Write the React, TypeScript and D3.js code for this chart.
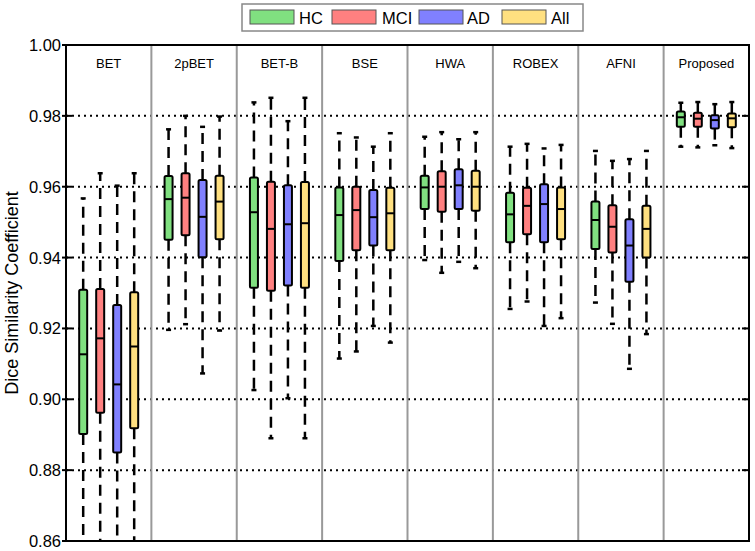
import React from "react";
import * as d3 from "d3";

// Methods (groups) along the x axis
const methods = ["BET", "2pBET", "BET-B", "BSE", "HWA", "ROBEX", "AFNI", "Proposed"];
// Series
const seriesNames = ["HC", "MCI", "AD", "All"];
const seriesColors = ["#80e080", "#ff8080", "#8080ff", "#ffe080"];
// Y ticks
const yTicks = [0.86, 0.88, 0.9, 0.92, 0.94, 0.96, 0.98, 1.0];

// Each entry: [whiskerLow, q1, median, q3, whiskerHigh], one per method
const hcStats = [
  [0.855, 0.8902, 0.9127, 0.9309, 0.9567],
  [0.9196, 0.945, 0.9565, 0.963, 0.9762],
  [0.9026, 0.9315, 0.9528, 0.9626, 0.9838],
  [0.9115, 0.939, 0.952, 0.9598, 0.9751],
  [0.9393, 0.9537, 0.9598, 0.9631, 0.9741],
  [0.9255, 0.9443, 0.9522, 0.9583, 0.9713],
  [0.9273, 0.9424, 0.9506, 0.9558, 0.9701],
  [0.9713, 0.9769, 0.9796, 0.9812, 0.9837],
];
const mciStats = [
  [0.855, 0.8962, 0.9172, 0.9311, 0.9638],
  [0.9212, 0.9463, 0.9569, 0.9638, 0.98],
  [0.889, 0.9306, 0.9481, 0.9614, 0.9851],
  [0.9135, 0.9421, 0.9534, 0.96, 0.9739],
  [0.9357, 0.9529, 0.96, 0.9644, 0.9754],
  [0.9276, 0.9466, 0.9546, 0.9597, 0.9721],
  [0.9213, 0.9414, 0.9487, 0.9548, 0.9673],
  [0.9711, 0.9769, 0.9792, 0.9809, 0.9839],
];
const adStats = [
  [0.855, 0.885, 0.9042, 0.9266, 0.9603],
  [0.9073, 0.9401, 0.9515, 0.9619, 0.9769],
  [0.9003, 0.9321, 0.9494, 0.9604, 0.9785],
  [0.9207, 0.9434, 0.9514, 0.9591, 0.9713],
  [0.9388, 0.9537, 0.9604, 0.9649, 0.9734],
  [0.9207, 0.9443, 0.9551, 0.9607, 0.9708],
  [0.9086, 0.9332, 0.9434, 0.9508, 0.9678],
  [0.9717, 0.9764, 0.9788, 0.9802, 0.9833],
];
const allStats = [
  [0.855, 0.8918, 0.9149, 0.9302, 0.9638],
  [0.9194, 0.9452, 0.9558, 0.9631, 0.9798],
  [0.889, 0.9315, 0.9497, 0.9613, 0.9851],
  [0.916, 0.9421, 0.9525, 0.9597, 0.9751],
  [0.937, 0.9532, 0.96, 0.9645, 0.9754],
  [0.9229, 0.9452, 0.9537, 0.9598, 0.9718],
  [0.9184, 0.94, 0.9481, 0.9546, 0.9701],
  [0.9709, 0.9768, 0.9793, 0.9807, 0.9839],
];
const allSeriesStats = [hcStats, mciStats, adStats, allStats];

const W = 755;
const H = 551;
const margin = { left: 66, right: 6, top: 45, bottom: 10 };

export default function App() {
  const x0 = margin.left;
  const x1 = W - margin.right;
  const yTop = margin.top;
  const yBot = H - margin.bottom;

  const y = d3.scaleLinear().domain([0.86, 1.0]).range([yBot, yTop]);
  const xg = d3.scaleBand<string>().domain(methods).range([x0, x1]).padding(0);
  const gw = xg.bandwidth();
  const xs = d3
    .scalePoint<string>()
    .domain(seriesNames)
    .range([gw / 2 - 25.5, gw / 2 + 25.5]);

  const boxW = 8;
  const capW = 5;

  const legendItems = [
    { x: 250, tx: 299 },
    { x: 332, tx: 382 },
    { x: 419, tx: 467 },
    { x: 502, tx: 551 },
  ];

  return (
    <svg
      width={W}
      height={H}
      style={{ position: "absolute", left: 0, top: 0, background: "#fff" }}
      fontFamily="Liberation Sans, Arial, sans-serif"
    >
      <defs>
        <clipPath id="plotclip">
          <rect x={x0} y={yTop} width={x1 - x0} height={yBot - yTop} />
        </clipPath>
      </defs>
      <rect x={0} y={0} width={W} height={H} fill="#fff" />

      {/* grid lines */}
      {yTicks
        .filter((t) => t > 0.861 && t < 0.999)
        .map((t) => (
          <line
            key={"g" + t}
            x1={x0}
            x2={x1}
            y1={y(t)}
            y2={y(t)}
            stroke="#000"
            strokeWidth={2}
            strokeDasharray="2,4"
          />
        ))}

      {/* group dividers */}
      {methods.slice(1).map((m) => (
        <line
          key={"d" + m}
          x1={xg(m)!}
          x2={xg(m)!}
          y1={yTop}
          y2={yBot}
          stroke="#999"
          strokeWidth={2}
        />
      ))}

      {/* group labels */}
      {methods.map((m) => (
        <text
          key={"l" + m}
          x={xg(m)! + gw / 2}
          y={yTop + 23}
          textAnchor="middle"
          fontSize={13}
          fill="#000"
        >
          {m}
        </text>
      ))}

      {/* boxes */}
      <g clipPath="url(#plotclip)">
        {methods.map((m, mi) =>
          seriesNames.map((s, si) => {
            const st = allSeriesStats[si][mi];
            const cx = xg(m)! + xs(s)!;
            const [lo, q1, med, q3, hi] = st;
            return (
              <g key={m + s}>
                <line
                  x1={cx}
                  x2={cx}
                  y1={y(q3)}
                  y2={y(hi)}
                  stroke="#000"
                  strokeWidth={2.5}
                  strokeDasharray="11,7"
                />
                <line
                  x1={cx}
                  x2={cx}
                  y1={y(q1)}
                  y2={y(lo)}
                  stroke="#000"
                  strokeWidth={2.5}
                  strokeDasharray="11,7"
                />
                <line x1={cx - capW / 2} x2={cx + capW / 2} y1={y(hi)} y2={y(hi)} stroke="#000" strokeWidth={2.5} />
                <line x1={cx - capW / 2} x2={cx + capW / 2} y1={y(lo)} y2={y(lo)} stroke="#000" strokeWidth={2.5} />
                <rect
                  x={cx - boxW / 2}
                  y={y(q3)}
                  width={boxW}
                  height={y(q1) - y(q3)}
                  rx={1.5}
                  fill={seriesColors[si]}
                  stroke="#000"
                  strokeWidth={2}
                />
                <line
                  x1={cx - boxW / 2}
                  x2={cx + boxW / 2}
                  y1={y(med)}
                  y2={y(med)}
                  stroke="#000"
                  strokeWidth={2}
                />
              </g>
            );
          })
        )}
      </g>

      {/* frame */}
      <rect x={x0} y={yTop} width={x1 - x0} height={yBot - yTop} fill="none" stroke="#000" strokeWidth={2} />

      {/* ticks & tick labels */}
      {yTicks.map((t) => (
        <g key={"t" + t}>
          <line x1={x0 - 4} x2={x0 + 6} y1={y(t)} y2={y(t)} stroke="#000" strokeWidth={2} />
          <line x1={x1 - 7} x2={x1} y1={y(t)} y2={y(t)} stroke="#000" strokeWidth={2} />
          <text x={x0 - 5} y={y(t) + 6} textAnchor="end" fontSize={16.5} fill="#000">
            {t.toFixed(2)}
          </text>
        </g>
      ))}

      {/* y axis title */}
      <text
        transform={`translate(18, ${(yTop + yBot) / 2}) rotate(-90)`}
        textAnchor="middle"
        fontSize={18}
        fill="#000"
      >
        Dice Similarity Coefficient
      </text>

      {/* legend */}
      <rect x={242} y={4} width={341} height={27} fill="#fff" stroke="#888" strokeWidth={1.5} />
      {seriesNames.map((s, i) => (
        <g key={"lg" + s}>
          <rect
            x={legendItems[i].x}
            y={10}
            width={44}
            height={14}
            fill={seriesColors[i]}
            stroke="#555"
            strokeWidth={1}
          />
          <text x={legendItems[i].tx} y={23.5} fontSize={16.5} fill="#000">
            {s}
          </text>
        </g>
      ))}
    </svg>
  );
}
